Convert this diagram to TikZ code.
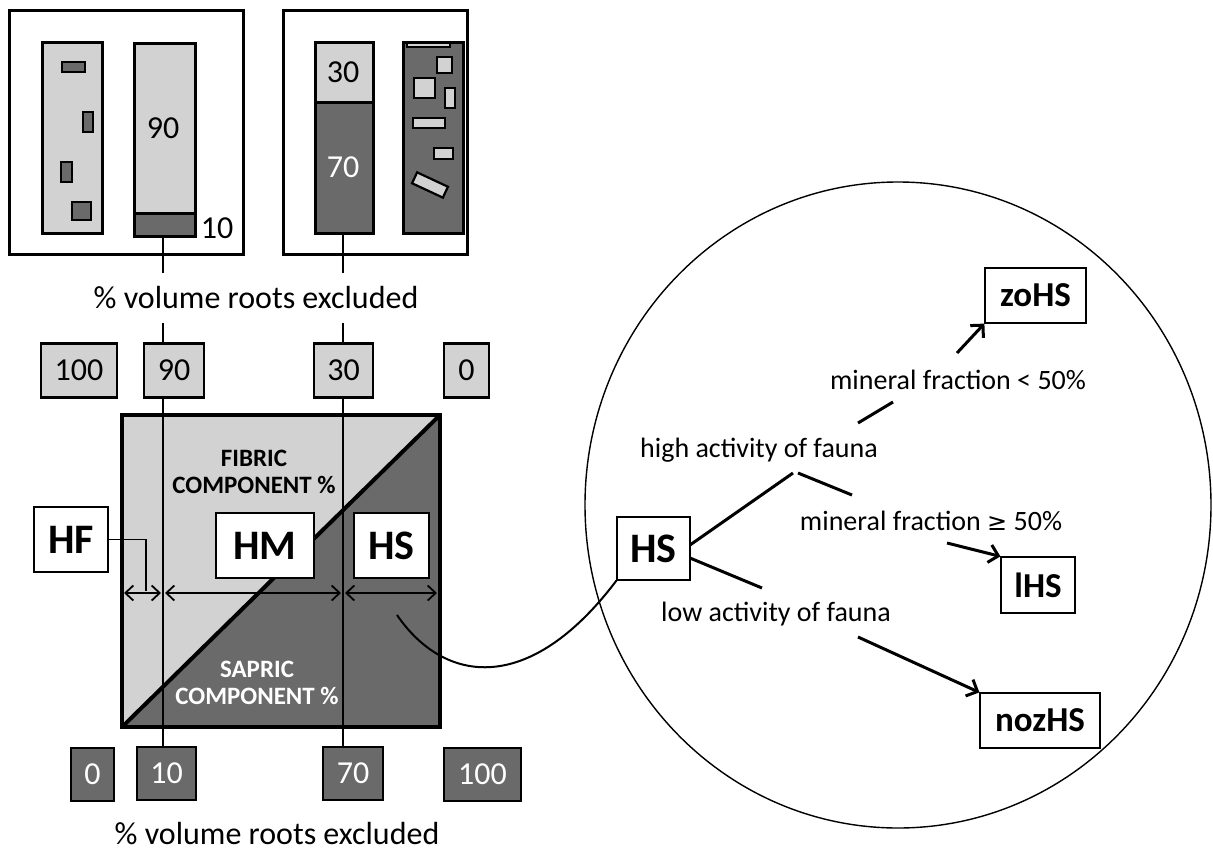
\documentclass[tikz,border=0pt]{standalone}
\usepackage{fontspec}
\setmainfont{Carlito}
\usetikzlibrary{arrows.meta}
\definecolor{lightg}{RGB}{210,210,210}
\definecolor{darkg}{RGB}{106,106,106}
\tikzset{
  outerbox/.style={draw, line width=3pt, inner sep=0pt},
  colbox/.style={draw, line width=3pt, inner sep=0pt},
  chip/.style={draw, line width=2.2pt, fill=darkg},
  lchip/.style={draw, line width=2.2pt, fill=lightg},
  topnum/.style={draw, line width=2.5pt, fill=lightg, inner sep=0pt, minimum height=54pt, font=\fontsize{32}{32}\selectfont},
  botnum/.style={draw, line width=2.5pt, fill=darkg, text=white, inner sep=0pt, minimum height=53pt, font=\fontsize{32}{32}\selectfont},
  thin/.style={line width=1.5pt},
  classbox/.style={draw, line width=1.2pt, fill=white, inner sep=0pt, font=\bfseries\fontsize{42}{42}\selectfont},
  endbox/.style={draw, line width=1.2pt, fill=white, inner sep=0pt, font=\bfseries\fontsize{35}{35}\selectfont},
  lbl/.style={font=\fontsize{28}{28}\selectfont, inner sep=0pt},
  axislbl/.style={font=\fontsize{32}{32}\selectfont, inner sep=0pt},
  comp/.style={font=\bfseries\fontsize{25}{25}\selectfont, inner sep=0pt, align=center},
  dbl/.style={line width=1.6pt, {Straight Barb[length=8pt,width=15pt,line width=1.8pt]}-{Straight Barb[length=8pt,width=15pt,line width=1.8pt]}},
  branch/.style={line width=3pt},
  barrow/.style={line width=3pt, -{Straight Barb[length=9pt,width=18pt]}}
}
\begin{document}
\begin{tikzpicture}[x=1pt,y=-1pt]
\useasboundingbox (0,0) rectangle (1213,854);

% ---------- top sample boxes ----------
\node[outerbox, minimum width=234pt, minimum height=244pt] (box1) at (126,132) {};
\node[outerbox, minimum width=184pt, minimum height=244pt] (box2) at (375,132) {};

% column 1
\node[colbox, fill=lightg, minimum width=60pt, minimum height=191pt] (col1) at (72,137.5) {};
\draw[chip] (62,62) rectangle (85,72);
\draw[chip] (83,112) rectangle (93,132);
\draw[chip] (61,162) rectangle (72,182);
\draw[chip] (72,202) rectangle (91,220);

% column 2 (90 / 10)
\fill[lightg] (134,43) rectangle (195,213);
\fill[darkg] (134,213) rectangle (195,236);
\draw[line width=3pt] (134,213) -- (195,213);
\node[colbox, minimum width=61pt, minimum height=193pt] (col2) at (164.5,139.5) {};
\node[axislbl] (t90) at (163,128) {90};
\node[axislbl] (t10) at (217,228) {10};

% column 3 (30 / 70)
\fill[lightg] (315,42) rectangle (373,102);
\fill[darkg] (315,102) rectangle (373,233);
\draw[line width=3pt] (315,102) -- (373,102);
\node[colbox, minimum width=58pt, minimum height=191pt] (col3) at (344,137.5) {};
\node[axislbl] (t30) at (343,72) {30};
\node[axislbl, text=white] (t70) at (343,167) {70};

% column 4
\node[colbox, fill=darkg, minimum width=60pt, minimum height=191pt] (col4) at (433,137.5) {};
\draw[lchip] (407,43) rectangle (450,47);
\draw[lchip] (437,57) rectangle (452,73);
\draw[lchip] (414,78) rectangle (435,98);
\draw[lchip] (445,88) rectangle (455,108);
\draw[lchip] (413,118) rectangle (445,128);
\draw[lchip] (434,148) rectangle (453,159);
\draw[lchip, rotate around={-25:(430,185)}] (413,179) rectangle (447,191);

\coordinate (c1) at (163,273);
\coordinate (c2) at (343,273);
\draw[thin] (163,236) -- (c1);
\draw[thin] (343,233) -- (c2);

\node[axislbl] (toplabel) at (256,298) {\% volume roots excluded};

% ---------- top scale ----------
\node[topnum, minimum width=76pt] (n100) at (79,370.5) {100};
\node[topnum, minimum width=60pt] (n90) at (174,370.5) {90};
\node[topnum, minimum width=59pt] (n30) at (343.5,370.5) {30};
\node[topnum, minimum width=45pt] (n0) at (466.5,370.5) {0};

% ---------- main square ----------
\fill[lightg] (122,727) -- (122,415) -- (440,415) -- cycle;
\fill[darkg] (122,727) -- (440,415) -- (440,727) -- cycle;
\draw[line width=4pt] (122,727) -- (440,415);
\draw[line width=4pt] (122,415) rectangle (440,727);

\node[comp] (fib) at (254,472) {FIBRIC\\[2pt]COMPONENT \%};
\node[comp, text=white] (sap) at (257,683) {SAPRIC\\[2pt]COMPONENT \%};

% ---------- bottom scale ----------
\node[botnum, minimum width=43pt] (b0) at (92.5,774.5) {0};
\node[botnum, minimum width=59pt] (b10) at (166.5,773.5) {10};
\node[botnum, minimum width=60pt] (b70) at (353,773.5) {70};
\node[botnum, minimum width=77pt] (b100) at (482.5,774.5) {100};

\node[axislbl] (botlabel) at (277,834) {\% volume roots excluded};

% vertical guide lines
\draw[thin] (163,323) -- (163,343);
\draw[thin] (343,323) -- (343,343);
\draw[thin] (163,397) -- (163,747);
\draw[thin] (343,397) -- (343,747);

% class boxes
\node[classbox, minimum width=98pt, minimum height=65pt] (hm) at (265,545.5) {HM};
\node[classbox, minimum width=75pt, minimum height=65pt] (hs) at (391.5,545.5) {HS};
\node[classbox, minimum width=74pt, minimum height=65pt] (hf) at (71,539.5) {HF};

% range arrows
\coordinate (a0) at (124,593);
\coordinate (a1) at (161,593);
\coordinate (a2) at (165,593);
\coordinate (a3) at (341,593);
\coordinate (a4) at (345,593);
\coordinate (a5) at (437,593);
\draw[dbl] (a0) -- (a1);
\draw[dbl] (a2) -- (a3);
\draw[dbl] (a4) -- (a5);
\coordinate (hfend) at (146,591);
\draw[thin] (hf.east) -| (hfend);

% ---------- zoom ellipse ----------
\draw[line width=1.4pt] (898,505) ellipse [x radius=313, y radius=323];

\node[classbox, minimum width=73pt, minimum height=63pt] (hsr) at (653.5,548.5) {HS};
\coordinate (cs) at (397,615);
\draw[line width=2pt] (cs) .. controls (445,685) and (530,695) .. (hsr.south west);

\node[endbox, minimum width=101pt, minimum height=55pt] (zohs) at (1035.5,295.5) {zoHS};
\node[endbox, minimum width=74pt, minimum height=56pt] (ihs) at (1038,585) {lHS};
\node[endbox, minimum width=120pt, minimum height=55pt] (nozhs) at (1040,720.5) {nozHS};

\node[lbl] (high) at (759,450) {high activity of fauna};
\node[lbl] (low) at (776,614) {low activity of fauna};
\node[lbl] (mlt) at (958,380) {mineral fraction < 50\%};
\node[lbl] (mge) at (931,521) {mineral fraction {\fontspec{DejaVu Sans}\fontsize{24}{24}\selectfont ≥} 50\%};

\coordinate (h1) at (690,545);
\coordinate (h2) at (793,473);
\coordinate (h3) at (798,473);
\coordinate (h4) at (852,495);
\coordinate (h5) at (858,423);
\coordinate (h6) at (893,402);
\coordinate (l1) at (690,558);
\coordinate (l2) at (762,588);
\coordinate (z1) at (957,353);
\coordinate (i1) at (947,543);
\coordinate (n1) at (858,637);

\draw[branch] (h1) -- (h2);
\draw[branch] (h3) -- (h4);
\draw[branch] (h5) -- (h6);
\draw[branch] (l1) -- (l2);
\draw[barrow] (z1) -- (zohs.south west);
\draw[barrow] (i1) -- (ihs.north west);
\draw[barrow] (n1) -- (nozhs.north west);
\end{tikzpicture}
\end{document}
